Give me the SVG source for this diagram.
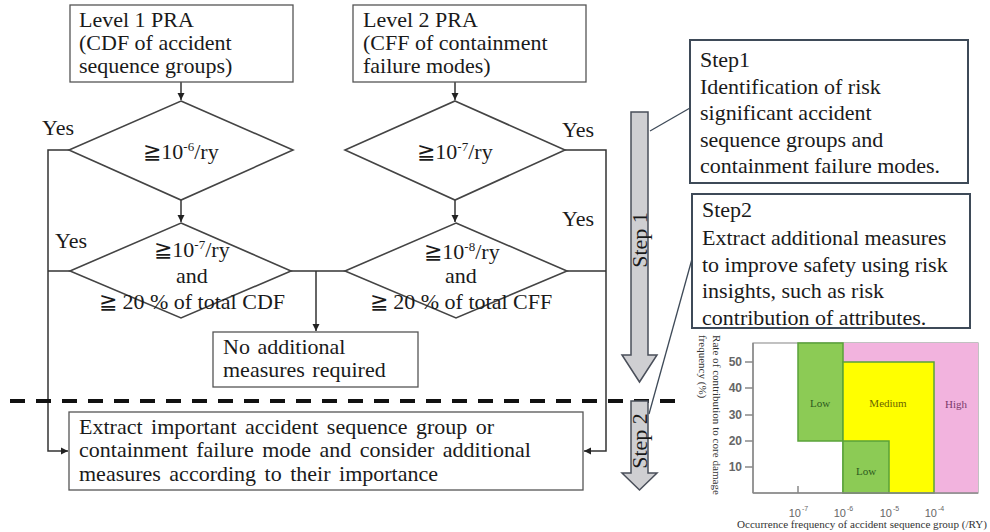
<svg xmlns="http://www.w3.org/2000/svg" width="990" height="532" viewBox="0 0 990 532">
<style>
.t{font-family:"Liberation Serif","Times New Roman",serif;font-size:22px;fill:#1a1a1a}
.box{fill:#fff;stroke:#555;stroke-width:1.3}
.sbox{fill:#fff;stroke:#3e4a58;stroke-width:2}
.dia{fill:#fff;stroke:#444;stroke-width:1.6}
.ln{fill:none;stroke:#333;stroke-width:1.5}
.sarrow{fill:#cfcfd2;stroke:#4a4f5a;stroke-width:1.5}
.ax{font-family:"Liberation Sans",Arial,sans-serif;font-size:12px;font-weight:bold;fill:#666}
.xt{font-family:"Liberation Sans",Arial,sans-serif;font-size:11px;fill:#666}
.xs{font-family:"Liberation Sans",Arial,sans-serif;font-size:7px;fill:#666}
.ct{font-family:"Liberation Serif","Times New Roman",serif;font-size:11px}
.sup{font-size:13px}
</style>
<defs>
<marker id="ah" markerWidth="8" markerHeight="8" refX="7" refY="4" orient="auto" markerUnits="userSpaceOnUse">
<path d="M0,0.5 L7,4 L0,7.5 Z" fill="#222"/>
</marker>
</defs>
<rect width="990" height="532" fill="#fff"/>

<g id="connectors">
<path class="ln" d="M181,82 V100" marker-end="url(#ah)"/>
<path class="ln" d="M181,200 V222" marker-end="url(#ah)"/>
<path class="ln" d="M455,82 V100" marker-end="url(#ah)"/>
<path class="ln" d="M455,200 V222" marker-end="url(#ah)"/>
<path class="ln" d="M69,150 H48 V451 H68" marker-end="url(#ah)"/>
<path class="ln" d="M70,271 H48"/>
<path class="ln" d="M291,271 H345"/>
<path class="ln" d="M316,271 V331" marker-end="url(#ah)"/>
<path class="ln" d="M565,150 H606 V451 H584" marker-end="url(#ah)"/>
<path class="ln" d="M567,271 H606"/>
<path d="M690,108 L650,131" fill="none" stroke="#3e4a58" stroke-width="1.3"/>
<path d="M692,259 L649,414" fill="none" stroke="#3e4a58" stroke-width="1.3"/>
</g>

<g id="level1">
<rect class="box" x="70" y="5" width="223" height="77"/>
<text class="t" x="79" y="27">Level 1 PRA</text>
<text class="t" x="79" y="50">(CDF of accident</text>
<text class="t" x="79" y="73">sequence groups)</text>
</g>

<g id="level2">
<rect class="box" x="353" y="5" width="233" height="77"/>
<text class="t" x="363" y="27">Level 2 PRA</text>
<text class="t" x="363" y="50">(CFF of containment</text>
<text class="t" x="363" y="73">failure modes)</text>
</g>

<g id="d1">
<polygon class="dia" points="181,101 293,150 181,200 69,150"/>
<text class="t" x="181" y="159" text-anchor="middle">≧10<tspan class="sup" dy="-8">-6</tspan><tspan dy="8">/ry</tspan></text>
<text class="t" x="42" y="135">Yes</text>
</g>

<g id="d2">
<polygon class="dia" points="181,223 291,271 181,318 70,271"/>
<text class="t" x="192" y="257" text-anchor="middle">≧10<tspan class="sup" dy="-8">-7</tspan><tspan dy="8">/ry</tspan></text>
<text class="t" x="192" y="283" text-anchor="middle">and</text>
<text class="t" x="192" y="309" text-anchor="middle">≧ 20 % of total CDF</text>
<text class="t" x="55" y="248">Yes</text>
</g>

<g id="d3">
<polygon class="dia" points="455,101 565,150 455,200 345,150"/>
<text class="t" x="455" y="159" text-anchor="middle">≧10<tspan class="sup" dy="-8">-7</tspan><tspan dy="8">/ry</tspan></text>
<text class="t" x="562" y="137">Yes</text>
</g>

<g id="d4">
<polygon class="dia" points="456,223 567,271 456,318 345,271"/>
<text class="t" x="462" y="259" text-anchor="middle">≧10<tspan class="sup" dy="-8">-8</tspan><tspan dy="8">/ry</tspan></text>
<text class="t" x="461" y="283" text-anchor="middle">and</text>
<text class="t" x="461" y="309" text-anchor="middle">≧ 20 % of total CFF</text>
<text class="t" x="562" y="226">Yes</text>
</g>

<g id="noadd">
<rect class="box" x="213" y="332" width="205" height="55"/>
<text class="t" x="223" y="354" font-size="20.5" word-spacing="2">No additional</text>
<text class="t" x="223" y="377" font-size="20.5" word-spacing="2">measures required</text>
</g>

<g id="divider">
<line x1="10" y1="401" x2="686" y2="401" stroke="#111" stroke-width="4" stroke-dasharray="15 11"/>
</g>

<g id="extract">
<rect class="box" x="69" y="412" width="514" height="78"/>
<text class="t" x="79" y="433.5" font-size="21" word-spacing="3">Extract important accident sequence group or</text>
<text class="t" x="79" y="457" font-size="21" word-spacing="3">containment failure mode and consider additional</text>
<text class="t" x="79" y="480.5" font-size="21" word-spacing="3">measures according to their importance</text>
</g>

<g id="step1arrow">
<path class="sarrow" d="M631,112 H648 V355 H657 L639.5,382 L622,355 H631 Z"/>
<text class="t" transform="translate(647,240) rotate(-90)" text-anchor="middle" font-size="20">Step 1</text>
</g>

<g id="step2arrow">
<path class="sarrow" d="M631,401 H648 V473 H657 L639.5,490 L622,473 H631 Z"/>
<text class="t" transform="translate(647,441) rotate(-90)" text-anchor="middle" font-size="20">Step 2</text>
</g>

<g id="step1">
<rect class="sbox" x="690" y="40" width="278" height="143"/>
<text class="t" x="700" y="67">Step1</text>
<text class="t" x="700" y="94">Identification of risk</text>
<text class="t" x="700" y="120">significant accident</text>
<text class="t" x="700" y="147">sequence groups and</text>
<text class="t" x="700" y="173">containment failure modes.</text>
</g>

<g id="step2">
<rect class="sbox" x="692" y="194" width="278" height="134"/>
<text class="t" x="702" y="217">Step2</text>
<text class="t" x="702" y="245">Extract additional measures</text>
<text class="t" x="702" y="272">to improve safety using risk</text>
<text class="t" x="702" y="298">insights, such as risk</text>
<text class="t" x="702" y="325">contribution of attributes.</text>
</g>

<g id="chart">
<rect x="753" y="343" width="225" height="150" fill="#fff" stroke="#999" stroke-width="1.2"/>
<rect x="843" y="343" width="135" height="150" fill="#f2b3de"/>
<rect x="798" y="343" width="45" height="98" fill="#8ccb55" stroke="#5aa33a" stroke-width="1.5"/>
<rect x="843" y="362" width="91" height="131" fill="#ffff00" stroke="#5aa33a" stroke-width="1.5"/>
<rect x="843" y="441" width="46" height="52" fill="#8ccb55" stroke="#5aa33a" stroke-width="1.5"/>
<line x1="753" y1="343" x2="753" y2="493" stroke="#888" stroke-width="1.5"/>
<line x1="753" y1="493" x2="978" y2="493" stroke="#888" stroke-width="1.5"/>
<line x1="798" y1="486" x2="798" y2="493" stroke="#888" stroke-width="1.5"/>
<g stroke="#888" stroke-width="1.5">
<line x1="745" y1="362" x2="753" y2="362"/>
<line x1="745" y1="388" x2="753" y2="388"/>
<line x1="745" y1="415" x2="753" y2="415"/>
<line x1="745" y1="441" x2="753" y2="441"/>
<line x1="745" y1="467" x2="753" y2="467"/>
</g>
<g class="ax" text-anchor="end">
<text x="742" y="366">50</text>
<text x="742" y="392">40</text>
<text x="742" y="419">30</text>
<text x="742" y="445">20</text>
<text x="742" y="471">10</text>
</g>
<g text-anchor="end">
<text class="xt" x="801" y="517">10</text>
<text class="xt" x="846" y="517">10</text>
<text class="xt" x="892" y="517">10</text>
<text class="xt" x="937" y="517">10</text>
</g>
<text class="xs" x="802" y="511">-7</text>
<text class="xs" x="847" y="511">-6</text>
<text class="xs" x="893" y="511">-5</text>
<text class="xs" x="938" y="511">-4</text>
<text class="ct" x="820" y="407" text-anchor="middle" fill="#2d5a1e" font-size="12">Low</text>
<text class="ct" x="888" y="407" text-anchor="middle" fill="#6a6400" font-size="12">Medium</text>
<text class="ct" x="956" y="408" text-anchor="middle" fill="#7a3a6a" font-size="12">High</text>
<text class="ct" x="866" y="475" text-anchor="middle" fill="#2d5a1e" font-size="12">Low</text>
<text class="ct" x="737" y="528" fill="#333" textLength="250" lengthAdjust="spacingAndGlyphs">Occurrence frequency of accident sequence group (/RY)</text>
<text class="ct" transform="translate(713,335) rotate(90)" fill="#333" textLength="160" lengthAdjust="spacingAndGlyphs">Rate of contribution to core damage</text>
<text class="ct" transform="translate(699,335) rotate(90)" fill="#333">frequency (%)</text>
</g>
</svg>
